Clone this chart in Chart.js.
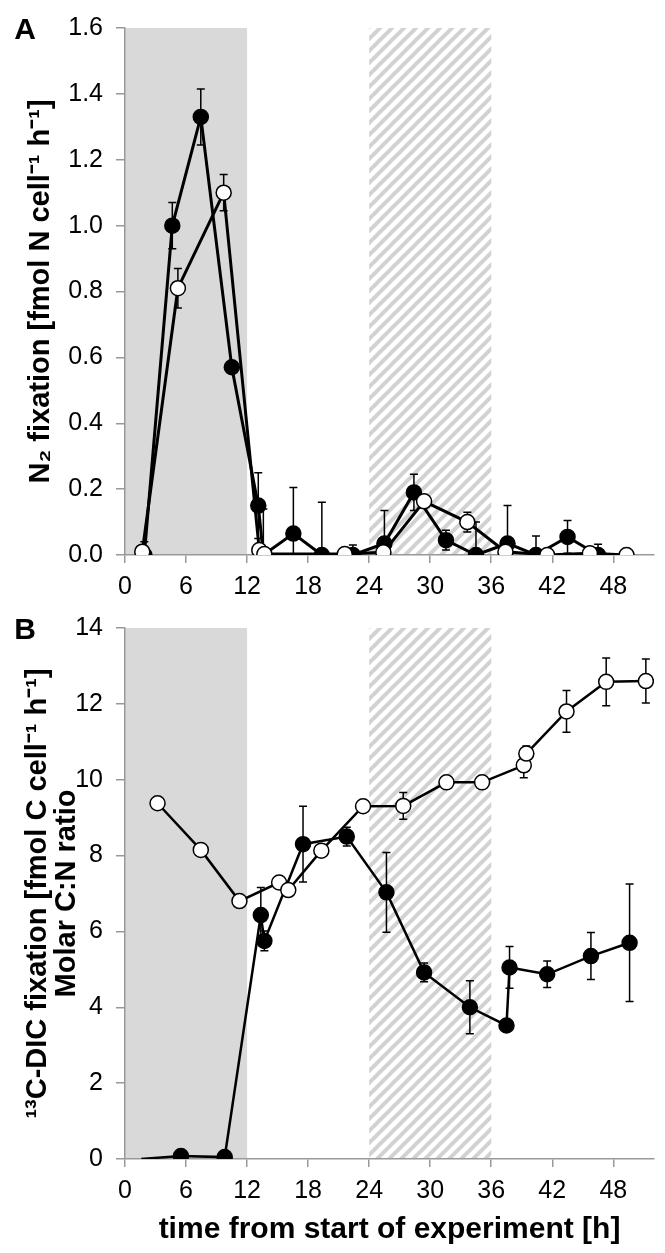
<!DOCTYPE html>
<html>
<head>
<meta charset="utf-8">
<script src="https://cdn.jsdelivr.net/npm/chart.js@4.4.0/dist/chart.umd.min.js"></script>
<style>
  html, body { margin: 0; padding: 0; background: #fff; }
  .panel { position: relative; width: 665px; }
  #wrapA { height: 600px; }
  #wrapB { height: 653px; }
</style>
</head>
<body>
<div class="panel" id="wrapA"><canvas id="chartA"></canvas></div>
<div class="panel" id="wrapB"><canvas id="chartB"></canvas></div>
<script>
// time axis
var xTicks = [0, 6, 12, 18, 24, 30, 36, 42, 48];
var xMax = 52;
var darkPhase = [0, 12];
var hatchPhase = [24, 36];

// panel A: N2 fixation, filled symbols
var n2FilledTime = [1.9, 4.65, 7.45, 10.5, 13.1, 13.6, 16.55, 19.35, 22.4, 25.5, 28.4, 31.55, 34.5, 37.6, 40.4, 43.5, 46.5];
var n2FilledValue = [0.0, 1.00, 1.33, 0.57, 0.15, 0.0, 0.065, 0.0, 0.0, 0.035, 0.19, 0.045, 0.0, 0.035, 0.0, 0.055, 0.0];
var n2FilledError = [0.04, 0.07, 0.085, 0, 0.1, 0.14, 0.14, 0.16, 0.03, 0.1, 0.055, 0.03, 0.1, 0.115, 0.058, 0.05, 0.033];

// panel A: N2 fixation, open symbols
var n2OpenTime = [1.7, 5.2, 9.7, 13.2, 13.7, 21.6, 25.4, 29.4, 33.65, 37.4, 41.5, 45.7, 49.3];
var n2OpenValue = [0.01, 0.81, 1.10, 0.015, 0.003, 0.003, 0.008, 0.163, 0.10, 0.01, 0.0, 0.005, 0.0];
var n2OpenError = [0, 0.06, 0.055, 0, 0, 0, 0, 0, 0.03, 0, 0, 0, 0];
var n2Ticks = [0, 0.2, 0.4, 0.6, 0.8, 1.0, 1.2, 1.4, 1.6];

// panel B: 13C-DIC fixation, filled symbols
var cFilledTime = [1.6, 5.5, 9.8, 13.35, 13.7, 17.5, 21.8, 25.7, 29.4, 33.9, 37.5, 37.8, 41.5, 45.8, 49.6];
var cFilledValue = [0.0, 0.08, 0.05, 6.43, 5.75, 8.3, 8.5, 7.03, 4.92, 4.0, 3.52, 5.05, 4.87, 5.35, 5.7];
var cFilledError = [0, 0, 0, 0.73, 0.26, 1.0, 0.25, 1.05, 0.25, 0.7, 0, 0.55, 0.35, 0.62, 1.55];

// panel B: molar C:N ratio, open symbols
var cnOpenTime = [3.2, 7.45, 11.25, 15.15, 16.05, 19.3, 23.4, 27.35, 31.6, 35.1, 39.2, 39.45, 43.4, 47.3, 51.2];
var cnOpenValue = [9.38, 8.15, 6.8, 7.29, 7.09, 8.13, 9.3, 9.31, 9.93, 9.93, 10.38, 10.69, 11.8, 12.58, 12.6];
var cnOpenError = [0, 0, 0, 0, 0, 0, 0, 0.35, 0, 0, 0.33, 0.2, 0.55, 0.63, 0.58];
var cTicks = [0, 2, 4, 6, 8, 10, 12, 14];

Chart.defaults.font.family = "'Liberation Sans', Arial, sans-serif";
Chart.defaults.color = '#000';

function toPoints(xs, ys) {
  return xs.map(function (x, i) { return { x: x, y: ys[i] }; });
}

function makeHatch() {
  var s = 12;
  var c = document.createElement('canvas');
  c.width = s; c.height = s;
  var g = c.getContext('2d');
  g.strokeStyle = '#d2d2d2';
  g.lineWidth = 4;
  g.beginPath();
  g.moveTo(0, s); g.lineTo(s, 0);
  g.moveTo(-s / 2, s / 2); g.lineTo(s / 2, -s / 2);
  g.moveTo(s / 2, s * 1.5); g.lineTo(s * 1.5, s / 2);
  g.stroke();
  return c;
}

// 背景（暗期・斜線）
var phases = {
  id: 'phases',
  beforeDraw: function (chart) {
    var ctx = chart.ctx, a = chart.chartArea, x = chart.scales.x;
    ctx.save();
    ctx.fillStyle = '#d9d9d9';
    var x0 = x.getPixelForValue(darkPhase[0]), x1 = x.getPixelForValue(darkPhase[1]);
    ctx.fillRect(x0, a.top, x1 - x0, a.bottom - a.top);
    ctx.fillStyle = ctx.createPattern(makeHatch(), 'repeat');
    var h0 = x.getPixelForValue(hatchPhase[0]), h1 = x.getPixelForValue(hatchPhase[1]);
    ctx.fillRect(h0, a.top, h1 - h0, a.bottom - a.top);
    ctx.restore();
  }
};

// エラーバー
var errorBars = {
  id: 'errorBars',
  beforeDatasetsDraw: function (chart) {
    var ctx = chart.ctx, a = chart.chartArea;
    ctx.save();
    ctx.beginPath();
    ctx.rect(a.left, a.top, a.right - a.left, a.bottom - a.top);
    ctx.clip();
    ctx.strokeStyle = '#000';
    ctx.lineWidth = 1.5;
    chart.data.datasets.forEach(function (ds) {
      ds.data.forEach(function (p, i) {
        var e = ds.errors[i];
        if (!e) return;
        var px = chart.scales.x.getPixelForValue(p.x);
        var y1 = chart.scales.y.getPixelForValue(p.y + e);
        var y2 = chart.scales.y.getPixelForValue(p.y - e);
        ctx.beginPath();
        ctx.moveTo(px, y1); ctx.lineTo(px, y2);
        ctx.moveTo(px - 4, y1); ctx.lineTo(px + 4, y1);
        ctx.moveTo(px - 4, y2); ctx.lineTo(px + 4, y2);
        ctx.stroke();
      });
    });
    ctx.restore();
  }
};

// パネル記号 A / B
var panelLetter = {
  id: 'panelLetter',
  afterDraw: function (chart, args, opts) {
    var ctx = chart.ctx;
    ctx.save();
    ctx.font = "bold 30px 'Liberation Sans', Arial, sans-serif";
    ctx.fillStyle = '#000';
    ctx.textAlign = 'center';
    ctx.textBaseline = 'middle';
    ctx.fillText(opts.text, 25, chart.chartArea.top + 3);
    ctx.restore();
  }
};

function lineSet(points, errors, filled, width) {
  return {
    data: points,
    errors: errors,
    showLine: true,
    borderColor: '#000',
    borderWidth: width,
    backgroundColor: filled ? '#000' : '#fff',
    pointBackgroundColor: filled ? '#000' : '#fff',
    pointBorderColor: '#000',
    pointBorderWidth: 1.5,
    pointRadius: 7.5,
    pointHoverRadius: 7.5
  };
}

function makePanel(id, cfg) {
  var tickFont = { size: 25 };
  return new Chart(document.getElementById(id), {
    type: 'scatter',
    data: { datasets: cfg.datasets },
    options: {
      responsive: true,
      maintainAspectRatio: false,
      animation: false,
      events: [],
      layout: { padding: { top: cfg.top, right: 11, left: 0, bottom: 0 } },
      plugins: {
        legend: { display: false },
        tooltip: { enabled: false },
        panelLetter: { text: cfg.letter }
      },
      scales: {
        x: {
          type: 'linear', min: 0, max: xMax,
          afterBuildTicks: function (s) { s.ticks = xTicks.map(function (v) { return { value: v }; }); },
          afterFit: function (s) { s.height = cfg.xHeight; },
          grid: { drawOnChartArea: false, drawTicks: true, tickLength: 8, color: '#999', lineWidth: 1.5 },
          border: { color: '#999', width: 1.5 },
          ticks: { font: tickFont, padding: 9, maxRotation: 0, autoSkip: false },
          title: {
            display: !!cfg.xTitle,
            text: cfg.xTitle || '',
            font: { size: 30, weight: 'bold', lineHeight: 1.2 },
            padding: { top: 0, bottom: 5 }
          }
        },
        y: {
          type: 'linear', min: 0, max: cfg.yTicks[cfg.yTicks.length - 1],
          afterBuildTicks: function (s) { s.ticks = cfg.yTicks.map(function (v) { return { value: v }; }); },
          afterFit: function (s) { s.width = 125; },
          grid: { drawOnChartArea: false, drawTicks: true, tickLength: 9, color: '#999', lineWidth: 1.5 },
          border: { color: '#999', width: 1.5 },
          ticks: { font: tickFont, padding: 13, callback: cfg.yFormat },
          title: {
            display: true,
            text: cfg.yTitle,
            font: { size: 29, weight: 'bold', lineHeight: 1.0 },
            padding: { top: cfg.yTitlePad, bottom: 0 }
          }
        }
      }
    },
    plugins: [phases, errorBars, panelLetter]
  });
}

makePanel('chartA', {
  letter: 'A',
  top: 20,
  xHeight: 45,
  yTicks: n2Ticks,
  yFormat: function (v) { return v.toFixed(1); },
  yTitle: 'N\u2082 fixation [fmol N cell\u207B\u00B9 h\u207B\u00B9]',
  yTitlePad: 26,
  datasets: [
    lineSet(toPoints(n2OpenTime, n2OpenValue), n2OpenError, false, 3),
    lineSet(toPoints(n2FilledTime, n2FilledValue), n2FilledError, true, 3)
  ]
});

var cFilled = lineSet(toPoints(cFilledTime, cFilledValue), cFilledError, true, 2.5);
cFilled.pointRadius = function (c) { return c.dataIndex === 0 ? 0 : 7.5; };

makePanel('chartB', {
  letter: 'B',
  top: 23,
  xHeight: 94,
  yTicks: cTicks,
  yFormat: function (v) { return String(v); },
  yTitle: ['\u00B9\u00B3C-DIC fixation [fmol C cell\u207B\u00B9 h\u207B\u00B9]', 'Molar C:N ratio'],
  yTitlePad: 23,
  xTitle: 'time from start of experiment [h]',
  datasets: [
    lineSet(toPoints(cnOpenTime, cnOpenValue), cnOpenError, false, 2.5),
    cFilled
  ]
});
</script>
</body>
</html>
